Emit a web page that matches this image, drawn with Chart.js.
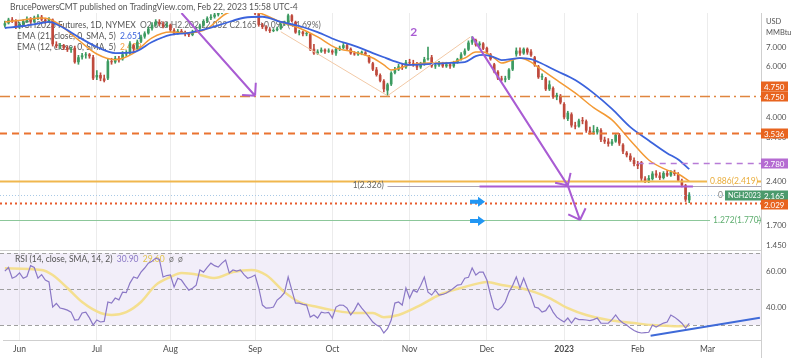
<!DOCTYPE html>
<html>
<head>
<meta charset="utf-8">
<script src="https://cdn.jsdelivr.net/npm/chart.js@4.4.0/dist/chart.umd.min.js"></script>
<style>
html,body{margin:0;padding:0;background:#fff}
canvas{display:block}
</style>
</head>
<body>
<canvas id="chart" width="800" height="358"></canvas>
<script>
//trading days from May 25 2022, weekends and exchange holidays skipped, plus empty days on the right
const holidays = ["2022-05-30","2022-06-20","2022-07-04","2022-09-05","2022-11-24","2022-12-26","2023-01-02","2023-01-16","2023-02-20"]
const dates = []
for (let d = new Date(Date.UTC(2022,4,25)); dates.length < 206; d.setUTCDate(d.getUTCDate()+1)) {
    let s = d.toISOString().slice(0,10)
    let wd = d.getUTCDay()
    if (wd == 0 || wd == 6 || holidays.includes(s)) continue
    dates.push(s)
}

//daily candles NGH2023
const opens = [
8.30,8.45,8.70,8.60,8.20,8.40,8.60,8.75,8.55,8.85,
8.90,8.70,8.60,8.70,7.15,7.05,7.10,6.95,6.85,6.95,
6.20,6.45,6.55,6.60,6.45,5.50,5.60,5.45,5.45,6.25,
6.20,6.40,6.35,6.60,6.65,7.10,6.90,7.30,7.60,7.80,
8.10,8.35,8.55,8.40,8.25,8.35,8.00,7.80,7.95,7.85,
7.75,7.70,7.90,8.10,8.30,8.60,8.80,8.90,9.05,9.25,
9.35,9.60,9.75,9.90,9.80,10.05,10.15,9.90,9.50,9.15,
8.35,8.20,8.05,7.95,8.00,8.10,8.40,8.35,9.00,8.55,
7.85,7.90,7.75,7.75,6.90,6.65,6.75,6.85,6.75,6.80,
6.65,6.90,6.95,7.10,6.90,6.65,6.60,6.68,6.70,6.50,
6.15,5.85,5.60,5.35,4.95,5.20,5.70,5.85,6.00,5.95,
6.20,6.15,6.10,5.95,6.10,6.35,6.45,6.00,6.05,6.15,
6.00,6.10,6.00,6.20,6.35,6.60,6.85,7.25,7.40,7.10,
7.20,6.95,6.60,6.10,5.75,5.45,5.40,5.45,5.85,6.60,
6.80,6.65,6.90,6.75,6.45,6.00,5.50,5.45,5.00,5.05,
4.70,4.75,4.45,3.95,4.10,3.75,3.72,3.90,3.88,3.60,
3.55,3.55,3.62,3.35,3.30,3.24,3.30,3.48,3.22,3.02,
2.95,2.85,2.76,2.80,2.46,2.41,2.45,2.56,2.52,2.47,
2.57,2.52,2.59,2.55,2.42,2.33,2.07]
const highs = [
8.60,8.80,8.85,8.70,8.50,8.70,8.90,8.85,8.95,9.05,
9.00,8.80,8.85,8.75,7.30,7.20,7.15,7.05,7.00,7.05,
6.55,6.65,6.70,6.65,6.55,5.80,5.70,5.60,6.35,6.40,
6.50,6.50,6.75,6.80,7.30,7.15,7.40,7.70,7.90,8.20,
8.50,8.70,8.70,8.55,8.50,8.40,8.10,8.05,8.05,7.95,
7.85,8.00,8.20,8.40,8.70,8.90,9.05,9.15,9.35,9.50,
9.70,9.90,10.0,10.1,10.2,10.3,10.3,10.0,9.60,9.25,
8.45,8.30,8.15,8.10,8.20,8.50,8.60,9.10,9.05,8.60,
8.00,7.95,7.90,7.80,7.15,6.85,6.95,6.90,6.90,6.85,
6.95,7.05,7.20,7.15,6.95,6.75,6.75,6.78,6.75,6.55,
6.20,5.95,5.65,5.40,5.25,5.75,5.95,6.10,6.10,6.30,
6.35,6.30,6.20,6.20,6.45,7.00,6.55,6.15,6.25,6.20,
6.20,6.15,6.25,6.40,6.70,6.90,7.35,7.60,7.45,7.30,
7.25,7.00,6.65,6.15,5.80,5.55,5.55,5.90,6.35,6.95,
6.95,6.95,6.95,6.85,6.50,6.05,5.65,5.50,5.35,5.10,
4.85,4.80,4.50,4.20,4.15,3.85,3.95,4.00,3.92,3.70,
3.75,3.70,3.66,3.42,3.38,3.36,3.52,3.52,3.25,3.05,
3.00,2.90,2.82,2.82,2.50,2.52,2.60,2.62,2.58,2.60,
2.62,2.62,2.63,2.58,2.45,2.35,2.20]
const lows = [
8.20,8.40,8.50,8.10,8.10,8.35,8.50,8.45,8.50,8.70,
8.60,8.45,8.50,7.05,6.95,6.90,6.85,6.75,6.70,6.15,
6.10,6.35,6.40,6.40,5.40,5.40,5.35,5.30,5.40,6.10,
6.15,6.20,6.30,6.50,6.60,6.75,6.85,7.25,7.50,7.75,
8.00,8.25,8.30,8.15,8.20,7.90,7.70,7.75,7.80,7.65,
7.60,7.65,7.85,8.05,8.25,8.50,8.70,8.80,8.95,9.10,
9.25,9.45,9.60,9.70,9.75,9.90,9.80,9.40,9.05,8.25,
8.10,7.95,7.85,7.90,7.95,8.05,8.30,8.30,8.55,7.80,
7.70,7.65,7.65,6.80,6.60,6.60,6.70,6.65,6.70,6.60,
6.55,6.80,6.90,6.85,6.60,6.55,6.55,6.58,6.55,6.15,
5.80,5.55,5.30,4.90,4.75,5.15,5.65,5.80,5.85,5.90,
6.05,6.00,5.85,5.90,6.05,6.30,5.95,5.90,6.00,5.95,
5.95,5.90,5.95,6.15,6.30,6.55,6.80,7.15,7.05,7.00,
6.85,6.65,6.30,5.70,5.40,5.35,5.30,5.40,5.80,6.50,
6.55,6.60,6.60,6.50,6.00,5.45,5.40,4.95,4.95,4.65,
4.60,4.45,3.95,3.90,3.70,3.65,3.70,3.80,3.55,3.50,
3.50,3.50,3.30,3.25,3.18,3.20,3.28,3.20,3.00,2.92,
2.82,2.72,2.66,2.42,2.38,2.38,2.43,2.48,2.44,2.45,
2.50,2.50,2.52,2.40,2.30,2.05,2.03]
const closes = [
8.45,8.70,8.60,8.20,8.40,8.60,8.75,8.55,8.85,8.90,
8.70,8.60,8.75,7.15,7.05,7.10,6.95,6.85,6.90,6.20,
6.45,6.55,6.60,6.50,5.45,5.60,5.45,5.35,6.25,6.20,
6.40,6.30,6.60,6.65,7.20,6.90,7.30,7.60,7.80,8.10,
8.35,8.55,8.40,8.25,8.35,8.00,7.80,7.95,7.85,7.75,
7.70,7.90,8.10,8.30,8.60,8.80,8.90,9.05,9.25,9.35,
9.60,9.75,9.90,9.80,10.05,10.15,9.90,9.50,9.15,8.35,
8.20,8.05,7.95,8.00,8.10,8.40,8.50,9.00,8.60,7.85,
7.90,7.75,7.80,6.85,6.65,6.75,6.85,6.75,6.80,6.70,
6.90,6.95,7.10,6.90,6.65,6.60,6.68,6.70,6.60,6.20,
5.85,5.60,5.35,5.00,5.20,5.70,5.85,6.00,5.95,6.20,
6.15,6.10,5.95,6.10,6.35,6.40,6.00,6.05,6.15,6.00,
6.10,6.00,6.20,6.35,6.60,6.80,7.25,7.40,7.10,7.20,
6.90,6.70,6.35,5.75,5.45,5.40,5.45,5.85,6.30,6.80,
6.65,6.90,6.70,6.55,6.05,5.50,5.55,5.00,5.20,4.70,
4.78,4.50,4.00,4.15,3.75,3.72,3.90,3.88,3.60,3.55,
3.58,3.65,3.35,3.30,3.24,3.30,3.48,3.25,3.05,2.96,
2.85,2.76,2.72,2.46,2.41,2.47,2.56,2.52,2.47,2.57,
2.52,2.59,2.55,2.42,2.33,2.08,2.165]

//moving averages, read every few bars
const emaIdx = [0,5,10,12,15,20,25,30,35,40,45,50,55,60,65,70,75,80,85,90,95,100,103,105,110,115,120,125,128,130,133,135,140,143,145,150,155,160,165,170,175,180,183,186]
const ema21 = [8.14,8.27,8.47,8.54,8.27,7.58,7.00,6.67,6.72,7.28,7.70,7.83,8.10,8.47,8.83,8.90,8.54,8.27,7.88,7.40,7.06,6.67,6.45,6.31,6.07,6.11,6.16,6.21,6.51,6.57,6.45,6.31,6.41,6.35,6.21,5.78,5.38,4.85,4.28,3.70,3.33,3.01,2.86,2.651]
const ema12 = [8.54,8.68,8.82,8.75,8.34,7.40,6.62,6.33,6.67,7.52,7.88,7.83,8.10,9.10,9.40,9.10,8.54,8.14,7.58,6.95,6.72,6.41,6.07,5.83,6.07,6.16,6.16,6.41,6.72,6.72,6.41,6.16,6.41,6.21,5.95,5.38,4.86,4.32,3.92,3.33,2.85,2.63,2.55,2.409]

//RSI 14 for every bar and its SMA every few bars
const rsi = [
60,62,56,57,59,56,57,63,62,56,
58,55,54,40,42,39.5,39,38.3,37.2,32.8,
33,36.7,37.2,34,30,32.8,31.7,32,42.8,42.2,
45,44,48.3,48,53.3,56.7,56,59.4,61.7,64.4,
65.5,67.2,66.5,56.7,57.5,57.8,51.1,56,55,52,
49.4,50.5,52.2,60.6,59.4,62,64.4,63,62.2,64.4,
66.1,58.9,60.6,60,60.6,58,56,56.7,57.8,50.6,
41.1,39.4,39.5,40,43.9,45.6,48,56.7,49.4,42.2,
42.2,41.5,41.1,34.4,35.6,33.9,37.2,36.7,37,33.9,
40,41.1,41,39.4,35.6,38.3,42.2,39.4,37,34.4,
31.7,30,28.9,25.6,28,32.8,42.2,42.8,41.1,50.6,
45,49.4,48.3,52,56.7,48.3,46.7,49.4,46.7,47,
47.8,49,50.6,52.2,52.5,56,56.5,61.7,57.8,59.4,
59.4,55,46.7,39.4,38.3,40,42.8,48.3,52,56.7,
50.6,56,50.6,46,40,39.4,37.2,38,41.1,37.2,
34.4,33,31.7,33.9,31.1,33.9,33,33,32.8,32.5,
33,33.9,31.1,31,31,33,35.6,32.8,31.1,30,
28.3,27,26.1,25.6,25.8,26,30,28.9,30,31.1,
31.7,35.6,34.4,32.8,31,28.3,30.9]
const smaIdx = [0,10,13,17,21,26,29,33,37,41,45,48,53,57,62,67,71,76,80,85,89,95,100,103,107,113,118,124,129,131,135,140,144,148,153,158,164,171,176,182,186]
const rsiSma = [61.5,60.6,57.8,50.6,42.8,36.7,35.6,37.2,42.8,52.2,56.7,58.9,57.8,56.1,59.4,60.6,57.8,48.3,42.8,40,38.3,36.7,36.7,34.4,35.6,41.1,46.7,50.6,53.3,53.9,52.2,50.6,48.3,45,39.4,35.6,32.8,31.1,30,29.4,29.6]

//axis ticks
const priceTicks = [1.45,1.7,2.4,3.4,4,6,7]
const rsiTicks = [40,60]

//levels and drawings (bar index, price)
const lvl4750 = 4.750, lvl3536 = 3.536, lvl2780 = 2.780, lvl2029 = 2.029
const fib886 = 2.419, fib1 = 2.326, fib1272 = 1.770, lastPrice = 2.165
const arrows = [[48,9.17,68,4.75],[127,7.6,153,2.326],[153,2.326,156.3,1.77]]
const peachLines = [[75,7.9,104,4.75],[104,4.75,126.5,7.58]]
const blueMarks = [[128.6,2.045],[128.6,1.755]]
const rsiTrend = [175.5,24.1,205.2,34.1]

const FONT = "Lato"
const GREEN = "#3d9b61", RED = "#bf4a3d"
const BLUE = "#3b63dc", ORANGE = "#f39a35", PURPLE = "#a95cd3"
const monthNames = ["Jan","Feb","Mar","Apr","May","Jun","Jul","Aug","Sep","Oct","Nov","Dec"]
const tickText = dates.map((d,i) => {
    if (i == 0 || d.slice(5,7) == dates[i-1].slice(5,7)) return null
    let m = +d.slice(5,7) - 1
    return m == 0 ? d.slice(0,4) : monthNames[m]
})
const colors = closes.map((c,i) => c >= opens[i] ? GREEN : RED)

function seg(ctx, x, y, parts){
    parts.forEach(p => {
        ctx.fillStyle = p[1]
        ctx.fillText(p[0], x, y)
        x += ctx.measureText(p[0]).width
    })
}
function hline(ctx, x1, x2, y, color, width, dash){
    ctx.beginPath()
    ctx.setLineDash(dash || [])
    ctx.strokeStyle = color
    ctx.lineWidth = width
    ctx.moveTo(x1, y)
    ctx.lineTo(x2, y)
    ctx.stroke()
    ctx.setLineDash([])
}
function tagBox(ctx, x, y, w, text, color, size){
    ctx.fillStyle = color
    ctx.fillRect(x, y-5, w, 10)
    ctx.fillStyle = "#fff"
    ctx.font = (size || 8) + "px " + FONT
    ctx.textBaseline = "middle"
    ctx.fillText(text, x+3, y+0.5)
}

const overlay = {
    id: "overlay",
    beforeDatasetsDraw(chart){
        const {ctx, chartArea: a, scales: {y, yRsi}} = chart
        ctx.save()
        //rsi band
        let t = yRsi.getPixelForValue(70), b = yRsi.getPixelForValue(30)
        ctx.fillStyle = "rgba(126,87,194,0.10)"
        ctx.fillRect(0, t, a.right, b-t)
        ;[70,50,30].forEach(v => hline(ctx, 0, a.right, Math.round(yRsi.getPixelForValue(v))+0.5, "#a0a0a0", 1, [4,3]))
        hline(ctx, 0, a.right, Math.round(y.bottom)+0.5, "#d0d0d0", 1)
        //price scale border runs down to the bottom
        ctx.beginPath()
        ctx.strokeStyle = "#cfcfcf"
        ctx.lineWidth = 1
        ctx.moveTo(Math.round(a.right)+0.5, a.bottom)
        ctx.lineTo(Math.round(a.right)+0.5, chart.height)
        ctx.stroke()
        //legend
        ctx.font = "8.5px " + FONT
        ctx.textBaseline = "middle"
        seg(ctx, 17, 25, [["NGH2023 Futures, 1D, NYMEX  ","#555"],["O2.068 H2.202 L2.032 C2.165 +0.097 (+4.69%)","#666"]])
        seg(ctx, 17, 36, [["EMA (21, close, 0, SMA, 5)  ","#555"],["2.651",BLUE]])
        seg(ctx, 17, 47, [["EMA (12, close, 0, SMA, 5)  ","#555"],["2.409",ORANGE]])
        seg(ctx, 15, yRsi.top+9, [["RSI (14, close, SMA, 14, 2)  ","#555"],["30.90  ","#8b78c6"],["29.60  ","#e2c44e"],["ø  ø","#777"]])
        ctx.restore()
    },
    afterDatasetsDraw(chart){
        const {ctx, chartArea: a, scales: {x, y, yRsi}} = chart
        const X = i => x.getPixelForValue(i)
        const Y = p => Math.round(y.getPixelForValue(p)) + 0.5
        ctx.save()
        //horizontal levels
        hline(ctx, 0, a.right, Y(lvl4750), "#e0853f", 1.5, [10,4,2,4])
        hline(ctx, 0, a.right, Y(lvl3536), "#ea7330", 2, [7,5])
        hline(ctx, X(172), a.right, Y(lvl2780), "#b77bd6", 1.5, [6,5])
        hline(ctx, 0, 707, Y(fib886), "#f0b74e", 2)
        hline(ctx, 757, a.right, Y(fib886), "#f0b74e", 2)
        hline(ctx, X(104), a.right, Y(fib1), "#aaa4b6", 1)
        hline(ctx, X(129), X(187), Y(fib1), PURPLE, 2)
        hline(ctx, 0, a.right, Y(lastPrice), "#a9c9e6", 1, [1,2])
        hline(ctx, 0, a.right, Y(lvl2029), "#e85a2c", 2, [2,3])
        hline(ctx, 0, 710, Y(fib1272), "#8cc79a", 1)
        hline(ctx, 757, a.right, Y(fib1272), "#8cc79a", 1)
        ctx.font = "8.5px " + FONT
        ctx.textBaseline = "middle"
        ctx.fillStyle = "#e9ad3c"
        ctx.fillText("0.886(" + fib886.toFixed(3) + ")", 710, Y(fib886))
        ctx.fillStyle = "#5fae70"
        ctx.fillText("1.272(" + fib1272.toFixed(3) + ")", 713, Y(fib1272))
        ctx.fillStyle = "#666"
        ctx.textAlign = "right"
        ctx.fillText("1(" + fib1.toFixed(3) + ")", X(103), Y(fib1) - 1)
        ctx.textAlign = "left"
        ctx.fillStyle = "#888"
        ctx.fillText("0", 718, Y(lastPrice))
        //peach pattern lines
        ctx.strokeStyle = "#f2c9a6"
        ctx.lineWidth = 1
        peachLines.forEach(l => {
            ctx.beginPath()
            ctx.moveTo(X(l[0]), y.getPixelForValue(l[1]))
            ctx.lineTo(X(l[2]), y.getPixelForValue(l[3]))
            ctx.stroke()
        })
        //purple arrows
        ctx.save()
        ctx.beginPath()
        ctx.rect(0, a.top, a.right, a.bottom - a.top)
        ctx.clip()
        ctx.strokeStyle = PURPLE
        ctx.lineWidth = 2
        arrows.forEach(l => {
            let x1 = X(l[0]), y1 = y.getPixelForValue(l[1]), x2 = X(l[2]), y2 = y.getPixelForValue(l[3])
            let ang = Math.atan2(y2-y1, x2-x1)
            ctx.beginPath()
            ctx.moveTo(x1, y1)
            ctx.lineTo(x2, y2)
            ;[-1,1].forEach(s => {
                ctx.moveTo(x2, y2)
                ctx.lineTo(x2 + 13*Math.cos(ang+Math.PI+s*Math.PI/4), y2 + 13*Math.sin(ang+Math.PI+s*Math.PI/4))
            })
            ctx.stroke()
        })
        ctx.restore()
        ctx.fillStyle = PURPLE
        ctx.font = "bold 12px " + FONT
        ctx.fillText("2", X(111) - 3, y.getPixelForValue(7.9))
        //blue arrow marks
        ctx.fillStyle = "#2196f3"
        blueMarks.forEach(m => {
            let cx = X(m[0]), cy = y.getPixelForValue(m[1])
            ctx.beginPath()
            ctx.moveTo(cx-8, cy-2); ctx.lineTo(cx, cy-2); ctx.lineTo(cx, cy-5)
            ctx.lineTo(cx+7, cy); ctx.lineTo(cx, cy+5); ctx.lineTo(cx, cy+2)
            ctx.lineTo(cx-8, cy+2); ctx.closePath()
            ctx.fill()
        })
        //rsi trendline
        ctx.strokeStyle = "#3f6ad8"
        ctx.lineWidth = 2
        ctx.beginPath()
        ctx.moveTo(X(rsiTrend[0]), yRsi.getPixelForValue(rsiTrend[1]))
        ctx.lineTo(X(rsiTrend[2]), yRsi.getPixelForValue(rsiTrend[3]))
        ctx.stroke()
        //price scale tags
        let ax = a.right
        tagBox(ctx, ax, Y(lvl4750) - 10, 27, "4.750", "#e8641f")
        tagBox(ctx, ax, Y(lvl4750), 27, "4.750", "#e8641f")
        tagBox(ctx, ax, Y(lvl3536), 27, "3.536", "#e8641f")
        tagBox(ctx, ax, Y(lvl2780), 27, "2.780", "#b56bd2")
        tagBox(ctx, ax - 36, Y(lastPrice), 36, "NGH2023", "#4a9a6c", 7.2)
        tagBox(ctx, ax, Y(lastPrice), 27, lastPrice.toFixed(3), "#4a9a6c")
        tagBox(ctx, ax, Y(lvl2029) + 1, 27, lvl2029.toFixed(3), "#e8641f")
        //header
        ctx.fillStyle = "#555"
        ctx.font = "8.5px " + FONT
        ctx.fillText("BrucePowersCMT published on TradingView.com, Feb 22, 2023 15:58 UTC-4", 10, 7)
        ctx.font = "7.5px " + FONT
        ctx.fillText("USD", 766, 22)
        ctx.fillText("MMBtu", 766, 33)
        ctx.restore()
    }
}

let canvas = document.getElementById("chart")
let chart = new Chart(canvas, {
    type: "bar",
    data: {
        labels: dates,
        datasets: [
            {
                type: "line",
                data: emaIdx.map((i,k) => ({x: dates[i], y: ema21[k]})),
                yAxisID: "y",
                borderColor: BLUE,
                borderWidth: 1.8,
                pointRadius: 0,
                cubicInterpolationMode: "monotone",
                order: 0
            },
            {
                type: "line",
                data: emaIdx.map((i,k) => ({x: dates[i], y: ema12[k]})),
                yAxisID: "y",
                borderColor: ORANGE,
                borderWidth: 1.5,
                pointRadius: 0,
                cubicInterpolationMode: "monotone",
                order: 0
            },
            {
                data: opens.map((o,i) => [o, closes[i]]),
                yAxisID: "y",
                backgroundColor: colors,
                grouped: false,
                barPercentage: 0.72,
                categoryPercentage: 1,
                minBarLength: 1,
                order: 1
            },
            {
                data: lows.map((l,i) => [l, highs[i]]),
                yAxisID: "y",
                backgroundColor: colors,
                grouped: false,
                barThickness: 1,
                order: 2
            },
            {
                type: "line",
                data: rsi,
                yAxisID: "yRsi",
                borderColor: "#8b78c6",
                borderWidth: 1.2,
                pointRadius: 0,
                tension: 0,
                order: 0
            },
            {
                type: "line",
                data: smaIdx.map((i,k) => ({x: dates[i], y: rsiSma[k]})),
                yAxisID: "yRsi",
                borderColor: "rgba(244,222,138,0.95)",
                borderWidth: 2.5,
                pointRadius: 0,
                cubicInterpolationMode: "monotone",
                order: 0
            }
        ]
    },
    options: {
        responsive: false,
        animation: false,
        devicePixelRatio: 1,
        layout: {padding: {top: 13, left: 3, right: 0, bottom: 0}},
        plugins: {legend: {display: false}, tooltip: {enabled: false}},
        scales: {
            x: {
                type: "category",
                offset: true,
                grid: {offset: false, color: "#ececec", drawTicks: false},
                border: {color: "#cfcfcf"},
                ticks: {
                    autoSkip: false,
                    maxRotation: 0,
                    padding: 4,
                    color: "#4a4a4a",
                    font: c => ({family: FONT, size: 8.5, weight: c.tick && c.tick.label == "2023" ? "bold" : "normal"}),
                    callback: (v, i) => tickText[i]
                },
                afterFit: s => { s.height = 18 }
            },
            y: {
                type: "logarithmic",
                position: "right",
                stack: "pane",
                stackWeight: 237,
                min: 1.394,
                max: 9.17,
                grid: {display: false, drawTicks: false},
                border: {color: "#cfcfcf"},
                ticks: {padding: 5, color: "#555", font: {family: FONT, size: 8}, callback: v => Number(v).toFixed(3)},
                afterBuildTicks: s => { s.ticks = priceTicks.map(v => ({value: v})) },
                afterFit: s => { s.width = 39 }
            },
            yRsi: {
                type: "linear",
                position: "right",
                stack: "pane",
                stackWeight: 90,
                min: 21.7,
                max: 71.7,
                grid: {display: false, drawTicks: false},
                border: {color: "#cfcfcf"},
                ticks: {padding: 5, color: "#555", font: {family: FONT, size: 8}, callback: v => Number(v).toFixed(2)},
                afterBuildTicks: s => { s.ticks = rsiTicks.map(v => ({value: v})) },
                afterFit: s => { s.width = 39 }
            }
        }
    },
    plugins: [overlay]
})
</script>
</body>
</html>
